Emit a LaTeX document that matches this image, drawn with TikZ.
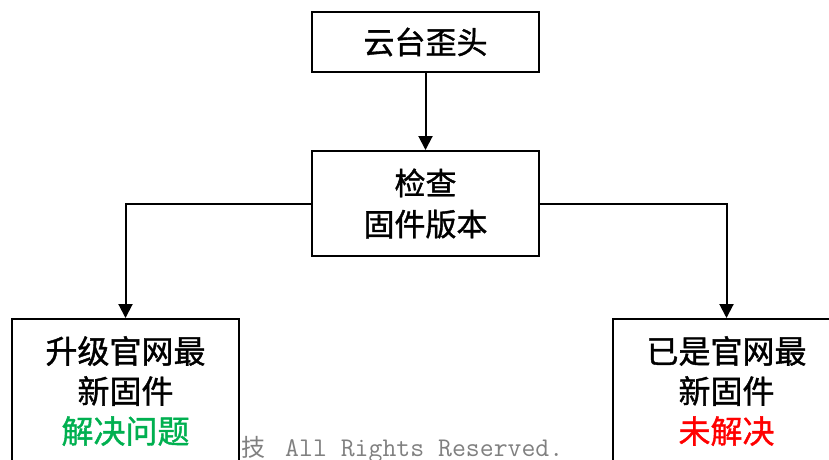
\documentclass[tikz,border=0pt]{standalone}
\usepackage{fontspec}
\newfontfamily\cjk{Noto Sans CJK SC}[FakeBold=1.2]
\newfontfamily\cjkwm{Noto Sans CJK SC}
\usetikzlibrary{arrows.meta}
\definecolor{okgreen}{RGB}{0,176,80}
\definecolor{wmgray}{RGB}{128,128,128}
\tikzset{
  box/.style={draw=black, line width=2pt, fill=white, rectangle, align=center, inner sep=0pt},
  toptext/.style={font=\cjk\fontsize{31}{41}\selectfont},
  bottext/.style={font=\cjk\fontsize{32}{40}\selectfont},
  conn/.style={line width=2pt, -{Triangle[width=14pt,length=14pt]}},
  wm/.style={text=wmgray, inner sep=0pt, anchor=base west}
}
\begin{document}
\begin{tikzpicture}[x=1pt,y=-1pt]
\useasboundingbox (0,0) rectangle (829,459);
\clip (0,0) rectangle (829,459);
\fill[white] (0,0) rectangle (829,459);
% watermark
\node[wm, font=\cjkwm\fontsize{24}{24}\selectfont] (wm1) at (241,456) {技};
\node[wm, font=\ttfamily\fontsize{27}{27}\selectfont] (wm2) at (285,456) {All Rights Reserved.};
% boxes
\node[box, toptext, minimum width=227pt, minimum height=60pt] (top) at (425.5,42) {云台歪头};
\node[box, toptext, minimum width=227pt, minimum height=105pt] (mid) at (425.5,203.5) {检查\\固件版本};
\node[box, bottext, minimum width=227pt, minimum height=144pt] (left) at (125.5,391) {升级官网最\\新固件\\\textcolor{okgreen}{解决问题}};
\node[box, bottext, minimum width=227pt, minimum height=144pt] (right) at (726.5,391) {已是官网最\\新固件\\\textcolor{red}{未解决}};
% connectors
\draw[conn] (top) -- (mid);
\draw[conn] (mid.west) -| (left.north);
\draw[conn] (mid.east) -| (right.north);
\end{tikzpicture}
\end{document}
